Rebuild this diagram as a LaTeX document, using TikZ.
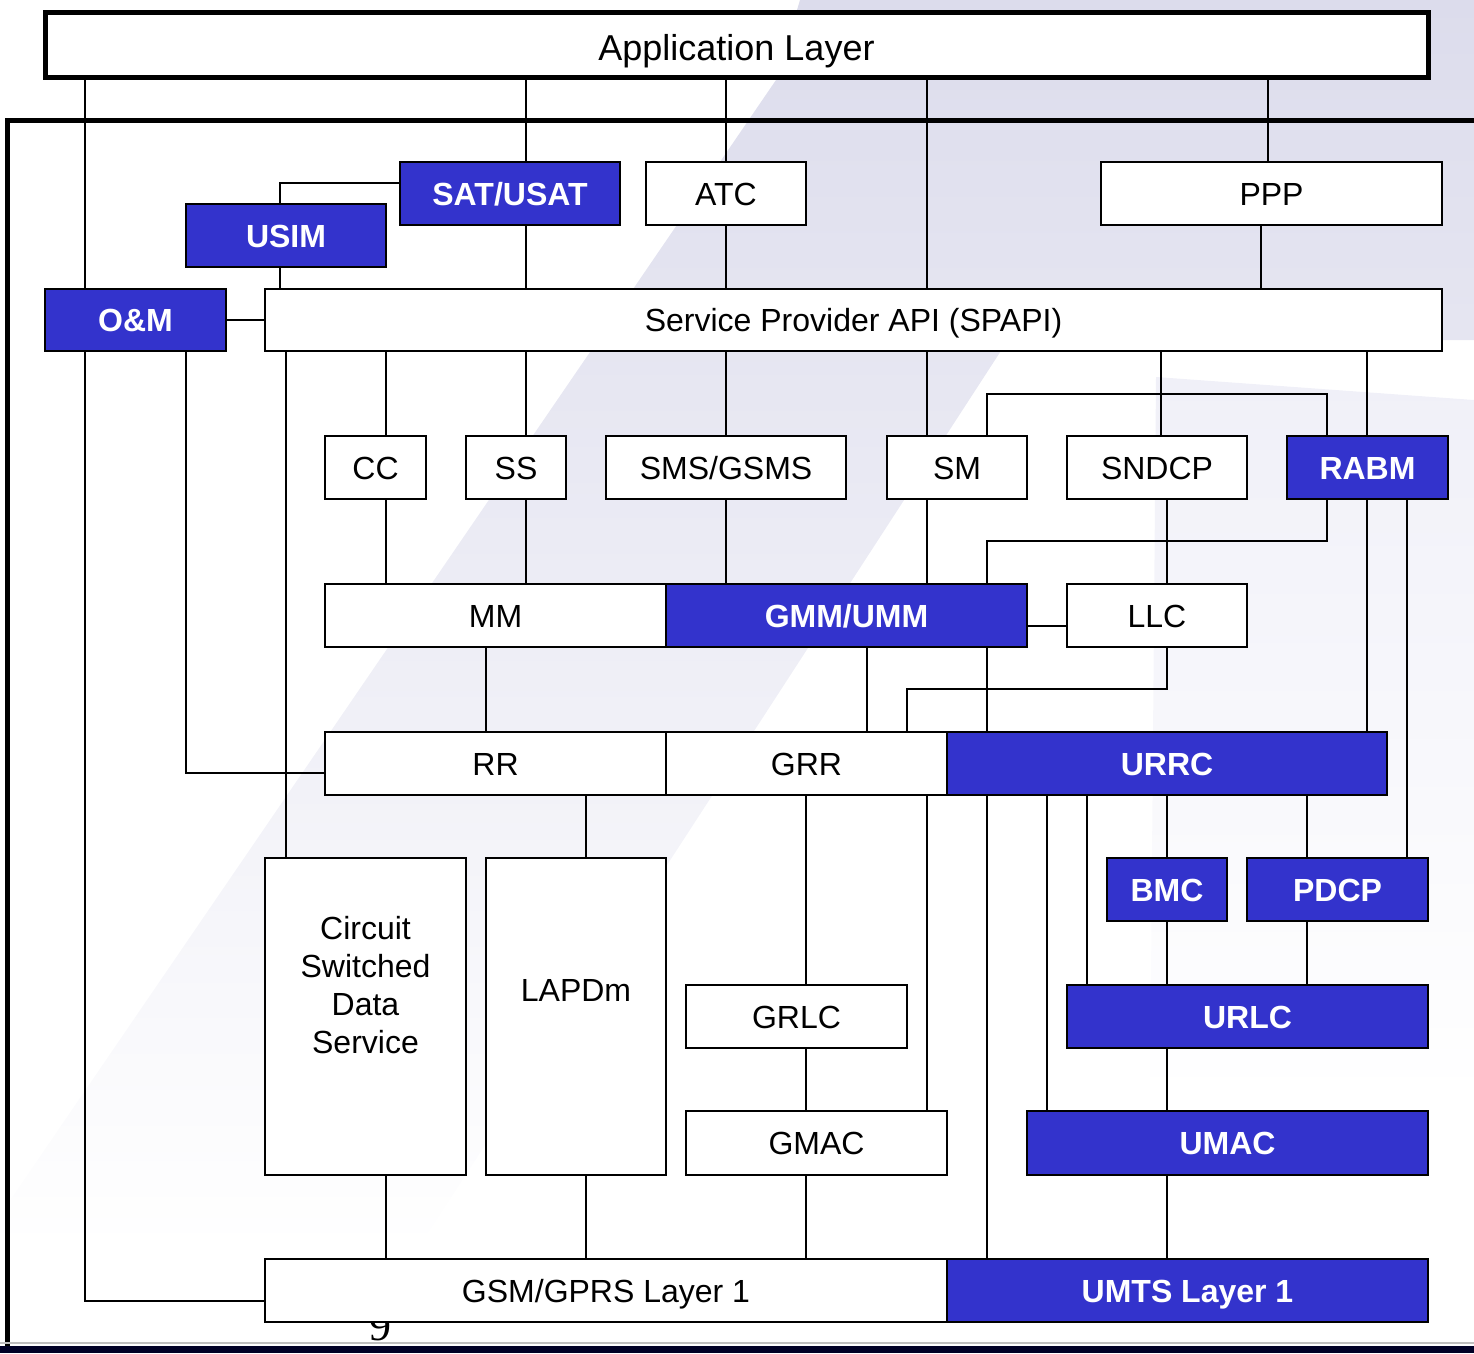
\documentclass[tikz,border=0pt]{standalone}
\usepackage{fontspec}
\setmainfont{Liberation Sans}
\newfontfamily\slidenumfont{Liberation Serif}
\usetikzlibrary{backgrounds}
\definecolor{umtsblue}{RGB}{51,51,204}
\definecolor{wmlav}{RGB}{220,220,236}
\definecolor{wmlight}{RGB}{240,240,248}

\tikzset{
  blk/.style={draw=black, line width=2pt, fill=white, inner sep=0pt, minimum height=63pt, text height=23pt, text depth=0pt, font=\fontsize{32}{38}\selectfont},
  ublk/.style={blk, fill=umtsblue, text=white, font=\fontsize{32}{38}\selectfont\bfseries},
  link/.style={line width=1.6pt},
}

\begin{document}
\begin{tikzpicture}[x=1pt, y=-1pt]
  \useasboundingbox (0,0) rectangle (1474,1353);

  % top layer and frame
  \node[blk, line width=5pt, minimum width=1383pt, minimum height=65pt, text height=32pt, font=\fontsize{36}{42}\selectfont] (app) at (736.5,44.5) {Application Layer};

  % upper stack
  \node[ublk, minimum width=220pt] (sat) at (510,193.5) {SAT/USAT};
  \node[ublk, minimum width=200pt] (usim) at (286,235.5) {USIM};
  \node[blk, minimum width=160pt] (atc) at (726,193.5) {ATC};
  \node[blk, minimum width=341pt] (ppp) at (1271.5,193.5) {PPP};
  \node[ublk, minimum width=181pt, minimum height=62pt] (om) at (135.5,320) {O\&M};
  \node[blk, minimum width=1177pt, minimum height=62pt] (spapi) at (853.5,320) {Service Provider API (SPAPI)};

  % CM / SM layer
  \node[blk, minimum width=101pt] (cc) at (375.5,467.5) {CC};
  \node[blk, minimum width=100pt] (ss) at (516,467.5) {SS};
  \node[blk, minimum width=240pt] (sms) at (726,467.5) {SMS/GSMS};
  \node[blk, minimum width=140pt] (sm) at (957,467.5) {SM};
  \node[blk, minimum width=180pt] (sndcp) at (1157,467.5) {SNDCP};
  \node[ublk, minimum width=161pt] (rabm) at (1367.5,467.5) {RABM};

  % mobility management
  \node[blk, minimum width=341pt] (mm) at (495.5,615.5) {MM};
  \node[ublk, minimum width=361pt] (gmm) at (846.5,615.5) {GMM/UMM};
  \node[blk, minimum width=180pt] (llc) at (1157,615.5) {LLC};

  % radio resource
  \node[blk, minimum width=341pt] (rr) at (495.5,763.5) {RR};
  \node[blk, minimum width=281pt] (grr) at (806.5,763.5) {GRR};
  \node[ublk, minimum width=440pt] (urrc) at (1167,763.5) {URRC};

  % layer 2
  \node[blk, minimum width=201pt, minimum height=317pt,
    label={[align=center, font=\fontsize{32}{38}\selectfont, yshift=31pt]center:Circuit\\Switched\\Data\\Service}] (csd) at (365.5,1016.5) {};
  \node[blk, minimum width=180pt, minimum height=317pt,
    label={[font=\fontsize{32}{38}\selectfont, yshift=26pt]center:LAPDm}] (lapdm) at (576,1016.5) {};
  \node[ublk, minimum width=120pt] (bmc) at (1167,889.5) {BMC};
  \node[ublk, minimum width=181pt] (pdcp) at (1337.5,889.5) {PDCP};
  \node[blk, minimum width=221pt] (grlc) at (796.5,1016.5) {GRLC};
  \node[ublk, minimum width=361pt] (urlc) at (1247.5,1016.5) {URLC};
  \node[blk, minimum width=261pt, minimum height=64pt] (gmac) at (816.5,1143) {GMAC};
  \node[ublk, minimum width=401pt, minimum height=64pt] (umac) at (1227.5,1143) {UMAC};

  % layer 1
  \node[blk, minimum width=682pt] (gsm) at (606,1290.5) {GSM/GPRS Layer 1};
  \node[ublk, minimum width=481pt] (umts) at (1187.5,1290.5) {UMTS Layer 1};

  % watermark, frame, slide number
  \begin{scope}[on background layer]
    \shade[top color=wmlav, middle color=wmlight, bottom color=white]
      (800,0) -- (1474,0) -- (1474,340) -- (1008,340) -- (417,1250) -- (0,1250) -- (0,1215) -- (776,80) -- cycle;
    \shade[top color=wmlight, bottom color=white]
      (1156,377) -- (1474,400) -- (1474,1100) -- (1150,1100) -- cycle;
    \node[anchor=base, font=\slidenumfont\fontsize{44}{50}\selectfont] (slidenum) at (380,1340) {9};
    \draw[line width=5pt] (1474,120) -- (7,120) -- (7,1353);
    \fill[black!85!blue] (0,1346) rectangle (1474,1353);
    \draw[line width=1.5pt, black!25] (0,1343) -- (1474,1343);
  \end{scope}

  % application layer links
  \draw[link] (app.south -| 85,0) -- (om.north -| 85,0);
  \draw[link] (app.south -| 526,0) -- (sat.north -| 526,0);
  \draw[link] (app.south -| atc.north) -- (atc.north);
  \draw[link] (app.south -| 927,0) -- (spapi.north -| 927,0);
  \draw[link] (app.south -| 1268,0) -- (ppp.north -| 1268,0);

  % to SPAPI
  \draw[link] (sat.west |- 0,183) -| (usim.north -| 280,0);
  \draw[link] (usim.south -| 280,0) -- (spapi.north -| 280,0);
  \draw[link] (sat.south -| 526,0) -- (spapi.north -| 526,0);
  \draw[link] (atc.south) -- (spapi.north -| atc.south);
  \draw[link] (ppp.south -| 1261,0) -- (spapi.north -| 1261,0);
  \draw[link] (om.east) -- (spapi.west |- om.east);

  % O&M links
  \draw[link] (om.south -| 85,0) |- (gsm.west |- 0,1301);
  \draw[link] (om.south -| 186,0) |- (rr.west |- 0,773);
  \draw[link] (spapi.south -| 286,0) -- (csd.north -| 286,0);

  % SPAPI down
  \draw[link] (spapi.south -| 386,0) -- (cc.north -| 386,0);
  \draw[link] (spapi.south -| 526,0) -- (ss.north -| 526,0);
  \draw[link] (spapi.south -| sms.north) -- (sms.north);
  \draw[link] (spapi.south -| 927,0) -- (sm.north -| 927,0);
  \draw[link] (spapi.south -| 1161,0) -- (sndcp.north -| 1161,0);
  \draw[link] (spapi.south -| 1367,0) -- (rabm.north -| 1367,0);
  \draw[link] (sm.north -| 987,0) -- (987,394) -| (rabm.north -| 1327,0);

  % into MM / GMM / LLC
  \draw[link] (cc.south -| 386,0) -- (mm.north -| 386,0);
  \draw[link] (ss.south -| 526,0) -- (mm.north -| 526,0);
  \draw[link] (sms.south) -- (gmm.north -| sms.south);
  \draw[link] (sm.south -| 927,0) -- (gmm.north -| 927,0);
  \draw[link] (rabm.south -| 1327,0) -- (1327,541) -| (gmm.north -| 987,0);
  \draw[link] (sndcp.south -| 1167,0) -- (llc.north -| 1167,0);
  \draw[link] (gmm.east |- 0,626) -- (llc.west |- 0,626);

  % into RR / GRR / URRC
  \draw[link] (mm.south -| 486,0) -- (rr.north -| 486,0);
  \draw[link] (gmm.south -| 867,0) -- (grr.north -| 867,0);
  \draw[link] (llc.south -| 1167,0) -- (1167,689) -| (grr.north -| 907,0);
  \draw[link] (gmm.south -| 987,0) -- (urrc.north -| 987,0);
  \draw[link] (rabm.south -| 1367,0) -- (urrc.north -| 1367,0);
  \draw[link] (rabm.south -| 1407,0) -- (pdcp.north -| 1407,0);

  % below RR / GRR / URRC
  \draw[link] (rr.south -| 586,0) -- (lapdm.north -| 586,0);
  \draw[link] (grr.south -| 806,0) -- (grlc.north -| 806,0);
  \draw[link] (grr.south -| 927,0) -- (gmac.north -| 927,0);
  \draw[link] (urrc.south -| 987,0) -- (umts.north -| 987,0);
  \draw[link] (urrc.south -| 1047,0) -- (umac.north -| 1047,0);
  \draw[link] (urrc.south -| 1087,0) -- (urlc.north -| 1087,0);
  \draw[link] (urrc.south -| bmc.north) -- (bmc.north);
  \draw[link] (urrc.south -| 1307,0) -- (pdcp.north -| 1307,0);

  % down to layer 1
  \draw[link] (csd.south -| 386,0) -- (gsm.north -| 386,0);
  \draw[link] (lapdm.south -| 586,0) -- (gsm.north -| 586,0);
  \draw[link] (grlc.south -| 806,0) -- (gmac.north -| 806,0);
  \draw[link] (gmac.south -| 806,0) -- (gsm.north -| 806,0);
  \draw[link] (bmc.south) -- (urlc.north -| bmc.south);
  \draw[link] (pdcp.south -| 1307,0) -- (urlc.north -| 1307,0);
  \draw[link] (urlc.south -| 1167,0) -- (umac.north -| 1167,0);
  \draw[link] (umac.south -| 1167,0) -- (umts.north -| 1167,0);
\end{tikzpicture}
\end{document}
